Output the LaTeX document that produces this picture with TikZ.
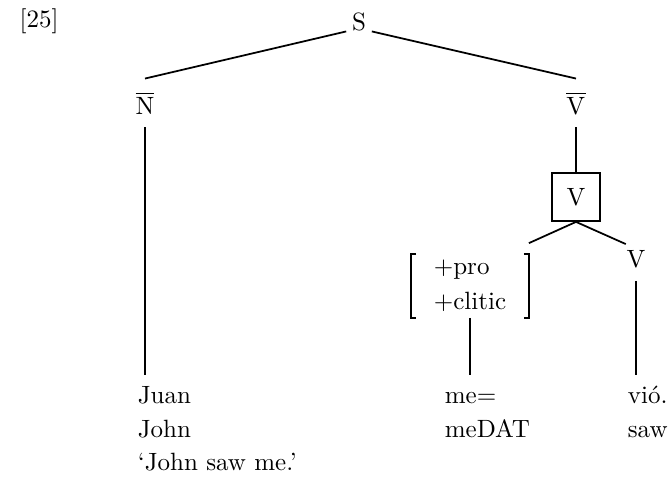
\documentclass[tikz,border=0pt]{standalone}
\usepackage{amsmath}
\usepackage{tikz}

\begin{document}
\begin{tikzpicture}[x=0.4pt, y=-0.4pt, line width=0.7pt,
    cat/.style={inner xsep=0pt, inner ysep=5pt, anchor=base},
    word/.style={inner xsep=0pt, inner ysep=4pt, text height=7pt, anchor=base west}]
    \useasboundingbox (0,0) rectangle (672,496);

    \node[anchor=base, inner sep=0pt] (num) at (39,27) {[25]};

    % tree nodes
    \node[anchor=base, inner xsep=2pt, inner ysep=0pt] (s) at (359,30) {S};
    \node[cat] (nbar) at (145,114) {$\overline{\mathrm{N}}$};
    \node[cat] (vbar) at (576,114) {$\overline{\mathrm{V}}$};
    \node[draw, minimum size=19.2pt, inner sep=0pt] (vbox) at (576,197) {V};
    \node[cat] (vleaf) at (636,267) {V};
    \node[align=left, inner sep=0pt, minimum width=46.4pt, minimum height=24.8pt] (feat) at (470,286) {+pro\\[2pt]+clitic};
    \draw ([xshift=2pt]feat.north west) -- (feat.north west) -- (feat.south west) -- ([xshift=2pt]feat.south west);
    \draw ([xshift=-2pt]feat.north east) -- (feat.north east) -- (feat.south east) -- ([xshift=-2pt]feat.south east);

    % words and glosses
    \node[word] (juan) at (137,403) {Juan};
    \node[word] (me) at (444,403) {me=};
    \node[word] (vio) at (627,403) {vi\'o.};
    \node[word] (john) at (137,437) {John};
    \node[word] (medat) at (444,437) {meDAT};
    \node[word] (saw) at (627,437) {saw};
    \node[word] (trans) at (137,470) {`John saw me.'};

    \draw (s.south west) -- (nbar.north);
    \draw (s.south east) -- (vbar.north);
    \draw (nbar.south) -- (nbar.south |- juan.north);
    \draw (vbar.south) -- (vbox.north);
    \draw (vbox.south) -- ([yshift=4.4pt]feat.north east);
    \draw (vbox.south) -- ([yshift=-3pt]vleaf.north west);
    \draw (feat.south) -- (feat.south |- me.north);
    \draw (vleaf.south) -- (vleaf.south |- vio.north);
\end{tikzpicture}
\end{document}
